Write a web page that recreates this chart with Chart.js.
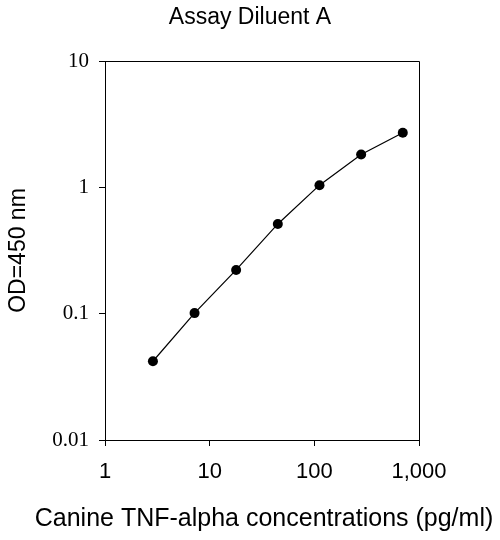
<!DOCTYPE html>
<html lang="en">
<head>
    <meta charset="UTF-8">
    <title>Assay Diluent A</title>
    <script src="https://cdn.jsdelivr.net/npm/chart.js"></script>
    <style>
        body {
            margin: 0;
            background: #fff;
        }
    </style>
</head>
<body>
    <canvas id="myChart" width="500" height="540"></canvas>

    <script>
        // standard curve
        const concentrations = [2.87, 7.17, 17.9, 44.8, 112, 280, 700];
        const odValues = [0.042, 0.101, 0.222, 0.513, 1.04, 1.82, 2.70];
        const xTicks = [1, 10, 100, 1000];
        const yTicks = [0.01, 0.1, 1, 10];
        const xTitle = 'Canine TNF-alpha concentrations (pg/ml)';

        // top and right sides of the box, plus the x title (the scale title
        // would get squeezed to the plot width)
        const boxPlugin = {
            id: 'box',
            afterDraw(chart) {
                const a = chart.chartArea;
                const ctx = chart.ctx;
                ctx.save();
                ctx.strokeStyle = '#000';
                ctx.lineWidth = 1;
                ctx.beginPath();
                ctx.moveTo(a.left, a.top + 0.5);
                ctx.lineTo(a.right + 0.5, a.top + 0.5);
                ctx.lineTo(a.right + 0.5, a.bottom);
                ctx.stroke();

                ctx.fillStyle = '#000';
                ctx.font = '25px "Liberation Sans"';
                ctx.textAlign = 'center';
                ctx.textBaseline = 'middle';
                ctx.fillText(xTitle, (a.left + a.right) / 2 + 2, 519);
                ctx.restore();
            }
        };

        const ctx = document.getElementById('myChart').getContext('2d');
        new Chart(ctx, {
            type: 'line',
            data: {
                datasets: [{
                    data: concentrations.map((c, i) => ({ x: c, y: odValues[i] })),
                    borderColor: '#000',
                    borderWidth: 1.2,
                    backgroundColor: '#000',
                    pointRadius: 5,
                    pointBackgroundColor: '#000',
                    pointBorderWidth: 0,
                    tension: 0
                }]
            },
            options: {
                responsive: false,
                animation: false,
                devicePixelRatio: 1,
                layout: {
                    padding: 0
                },
                plugins: {
                    legend: { display: false },
                    tooltip: { enabled: false },
                    title: {
                        display: true,
                        text: 'Assay Diluent A',
                        color: '#000',
                        font: { family: 'Liberation Sans', size: 23, weight: 'normal', lineHeight: 1.2 },
                        padding: { top: 4, bottom: 29.4 }
                    }
                },
                scales: {
                    x: {
                        type: 'logarithmic',
                        min: 1,
                        max: 1000,
                        afterBuildTicks: scale => {
                            scale.ticks = xTicks.map(v => ({ value: v }));
                        },
                        afterFit: scale => {
                            scale.height = 100;
                        },
                        ticks: {
                            color: '#000',
                            font: { family: 'Liberation Sans', size: 22 },
                            padding: 13,
                            maxRotation: 0,
                            autoSkip: false,
                            callback: value => Number(value).toLocaleString('en-US')
                        },
                        grid: {
                            drawOnChartArea: false,
                            drawTicks: true,
                            tickLength: 6,
                            color: '#000'
                        },
                        border: { display: true, color: '#000', width: 1 }
                    },
                    y: {
                        type: 'logarithmic',
                        min: 0.01,
                        max: 10,
                        afterBuildTicks: scale => {
                            scale.ticks = yTicks.map(v => ({ value: v }));
                        },
                        afterFit: scale => {
                            scale.width = 105;
                        },
                        ticks: {
                            color: '#000',
                            font: { family: 'Liberation Serif', size: 21 },
                            padding: 10,
                            autoSkip: false,
                            callback: value => String(value)
                        },
                        grid: {
                            drawOnChartArea: false,
                            drawTicks: true,
                            tickLength: 6,
                            color: '#000'
                        },
                        border: { display: true, color: '#000', width: 1 },
                        title: {
                            display: true,
                            text: 'OD=450 nm',
                            color: '#000',
                            font: { family: 'Liberation Sans', size: 23, lineHeight: 1.2 },
                            padding: { top: 5, bottom: 0 }
                        }
                    },
                    // empty axis that only keeps the right margin
                    yRight: {
                        position: 'right',
                        display: true,
                        ticks: { display: false },
                        grid: { display: false },
                        border: { display: false },
                        afterFit: scale => {
                            scale.width = 81;
                        }
                    }
                }
            },
            plugins: [boxPlugin]
        });
    </script>
</body>
</html>
